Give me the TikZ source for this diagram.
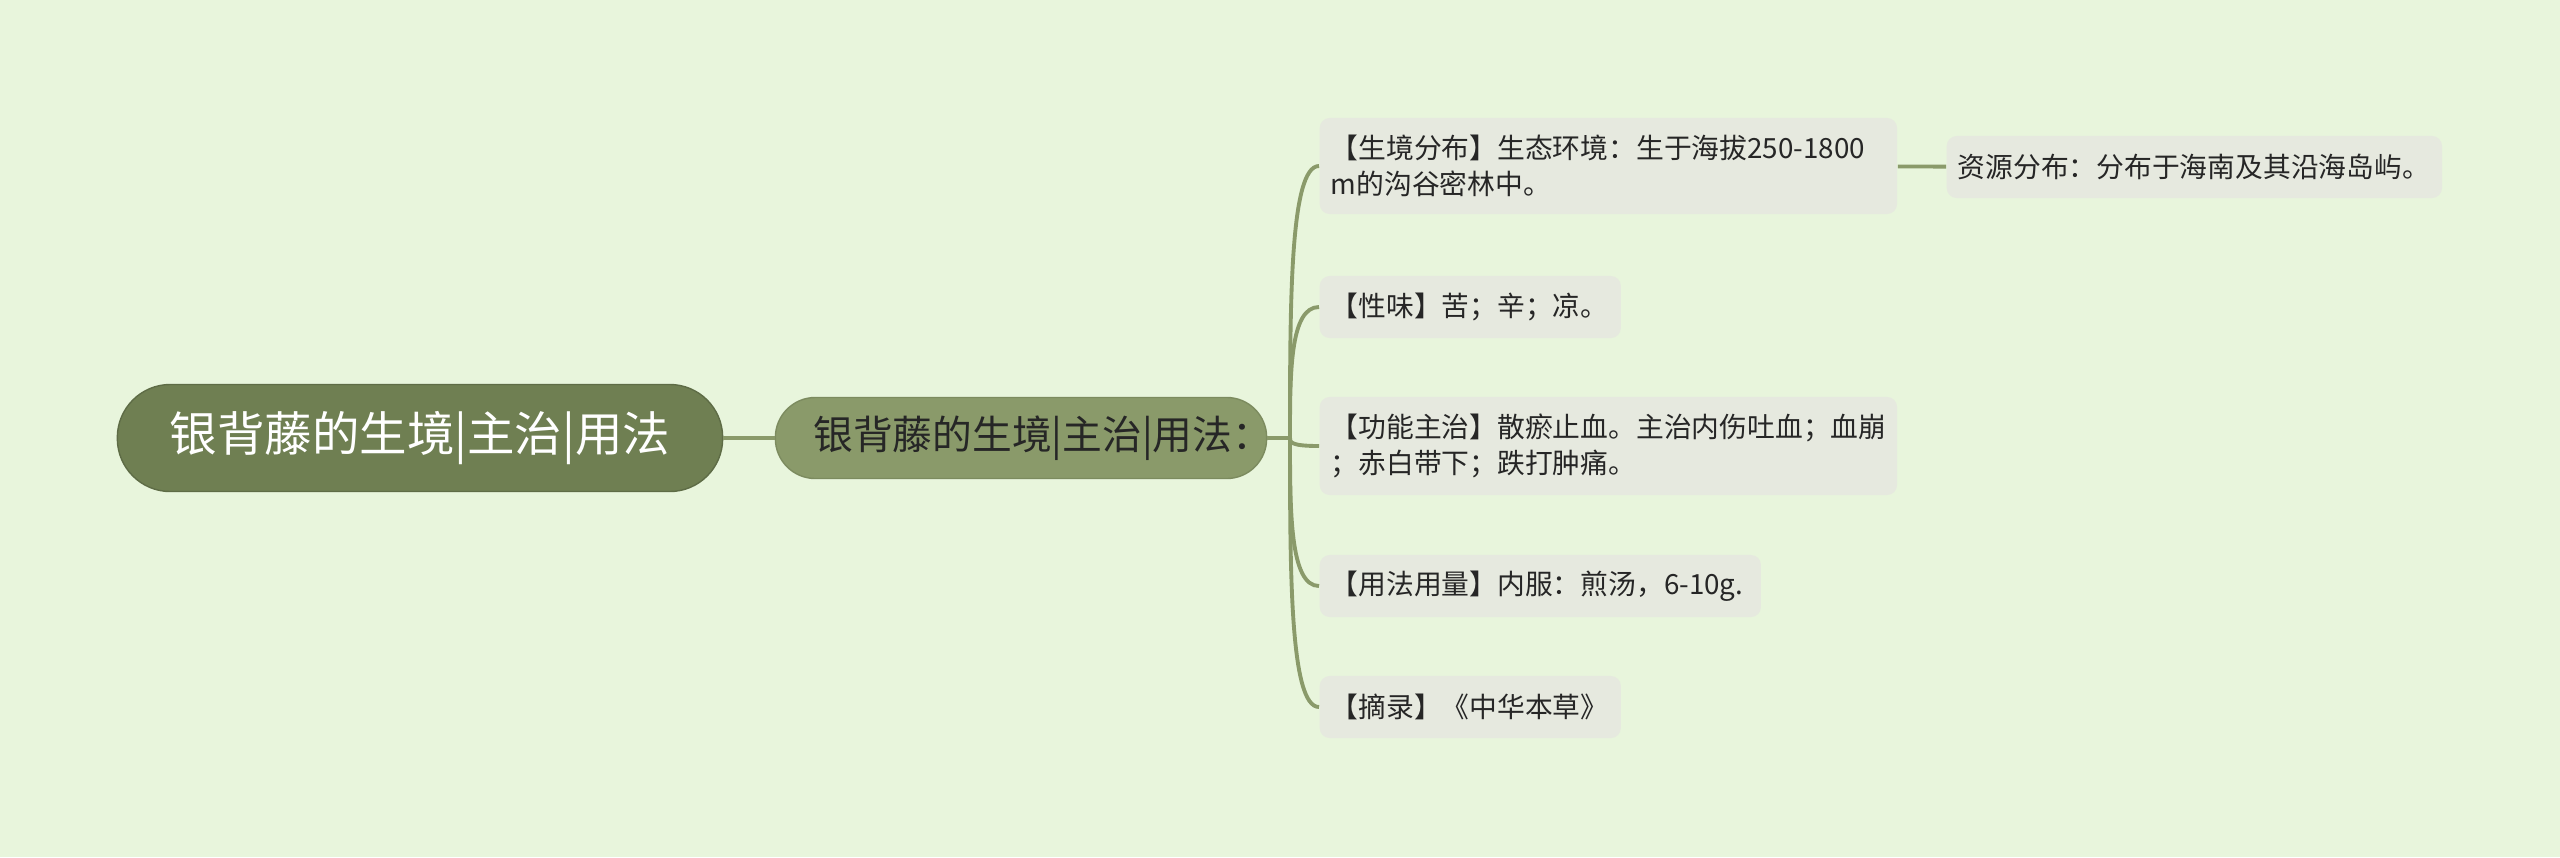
\documentclass[tikz,border=0pt]{standalone}
\usepackage{fontspec}
\setmainfont{Noto Sans CJK SC}
\usetikzlibrary{calc,positioning}
\definecolor{bgcolor}{HTML}{E8F5DC}
\definecolor{rootfill}{HTML}{6F7F52}
\definecolor{mainfill}{HTML}{8A9A6A}
\definecolor{leaffill}{HTML}{E6E9DF}
\definecolor{linecolor}{HTML}{8A9A6A}
\definecolor{textcolor}{HTML}{262626}
\tikzset{
    root node/.style={fill=rootfill,draw=rootfill!85!black,thin,text=white,rounded corners=0.53cm,minimum width=6.05cm,minimum height=1.07cm,inner sep=0pt,font=\fontsize{13.5pt}{16pt}\selectfont},
    main node/.style={fill=mainfill,draw=mainfill!90!black,thin,text=textcolor,rounded corners=0.4cm,align=left,text width=4.15cm,inner xsep=0.38cm,inner ysep=0pt,minimum height=0.81cm,font=\fontsize{11.3pt}{13pt}\selectfont},
    leaf node/.style={fill=leaffill,text=textcolor,rounded corners=0.1cm,anchor=west,align=left,inner xsep=0.11cm,inner ysep=0pt,minimum height=0.62cm,text width=#1,font=\fontsize{7.9pt}{10.2pt}\selectfont},
    branch/.style={linecolor,line width=1.1pt},
}

\begin{document}
\begin{tikzpicture}[x=0.01cm,y=-0.01cm]
    \fill[bgcolor] (0,0) rectangle (2560,857);
    \useasboundingbox (0,0) rectangle (2560,857);

    \node[root node] (root) at (420,438) {银背藤的生境|主治|用法};
    \node[main node] (main) at (1021,438) {银背藤的生境|主治|用法：};
    \coordinate (fork) at (1290,438);

    \node[leaf node=5.55cm,minimum height=0.96cm] (habitat) at (1319,166) {【生境分布】生态环境：生于海拔250-1800\\m的沟谷密林中。};
    \node[leaf node=2.79cm] (taste) at (1319,307) {【性味】苦；辛；凉。};
    \node[leaf node=5.55cm,minimum height=0.98cm] (function) at (1319,446) {【功能主治】散瘀止血。主治内伤吐血；血崩\\；赤白带下；跌打肿痛。};
    \node[leaf node=4.19cm] (usage) at (1319,586) {【用法用量】内服：煎汤，6-10g.};
    \node[leaf node=2.79cm] (source) at (1319,707) {【摘录】《中华本草》};
    \node[leaf node=4.73cm] (resource) at (1946,167) {资源分布：分布于海南及其沿海岛屿。};

    \draw[branch] (root) -- (main);
    \draw[branch] (main) -- (fork);
    \foreach \n in {habitat,taste,function,usage,source}
        \draw[branch] (fork) .. controls ($(fork)!.5!(fork |- \n.west)$) and (fork |- \n.west) .. (\n.west);
    \draw[branch] (habitat) -- (resource);
\end{tikzpicture}
\end{document}
